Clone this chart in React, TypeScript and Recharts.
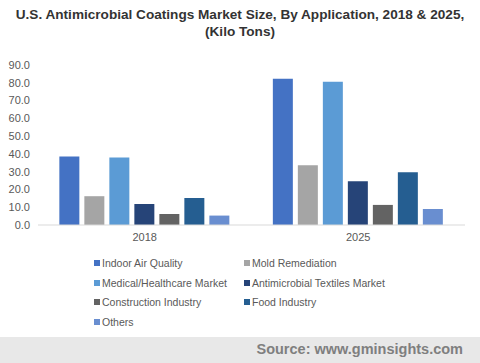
import { BarChart, Bar, XAxis, YAxis } from 'recharts'

const years = ['2018', '2025']

const indoorAir = [38.5, 82.2]
const moldRemediation = [16.2, 33.6]
const medical = [38.0, 80.6]
const textiles = [11.8, 24.6]
const construction = [6.2, 11.3]
const food = [15.2, 29.7]
const others = [5.3, 9.0]

const yTicks = [0, 10, 20, 30, 40, 50, 60, 70, 80, 90]

const series = [
  { key: 'indoor', name: 'Indoor Air Quality', color: '#4472C4', values: indoorAir },
  { key: 'mold', name: 'Mold Remediation', color: '#A5A5A5', values: moldRemediation },
  { key: 'medical', name: 'Medical/Healthcare Market', color: '#5B9BD5', values: medical },
  { key: 'textiles', name: 'Antimicrobial Textiles Market', color: '#264478', values: textiles },
  { key: 'construction', name: 'Construction Industry', color: '#636363', values: construction },
  { key: 'food', name: 'Food Industry', color: '#255E91', values: food },
  { key: 'others', name: 'Others', color: '#698ED0', values: others },
]

const data = years.map((year, i) => {
  const row: Record<string, string | number> = { year }
  series.forEach((s) => {
    row[s.key] = s.values[i]
  })
  return row
})

const font = '"Liberation Sans", Arial, sans-serif'

export default function App() {
  return (
    <div
      style={{
        position: 'absolute',
        left: 0,
        top: 0,
        width: 480,
        height: 363,
        background: '#fff',
        fontFamily: font,
        overflow: 'hidden',
      }}
    >
      <div
        style={{
          position: 'absolute',
          top: 6,
          left: 0,
          width: 480,
          textAlign: 'center',
          fontWeight: 'bold',
          fontSize: 13.6,
          lineHeight: '17px',
          color: '#333',
        }}
      >
        U.S. Antimicrobial Coatings Market Size, By Application, 2018 &amp; 2025,
        <br />
        (Kilo Tons)
      </div>

      <div style={{ position: 'absolute', top: 0, left: 0 }}>
        <BarChart
          width={480}
          height={250}
          data={data}
          margin={{ top: 65, right: 15, bottom: 0, left: 0 }}
          barCategoryGap="10%"
          barGap={5}
        >
          <XAxis
            dataKey="year"
            axisLine={{ stroke: '#d9d9d9' }}
            tickLine={false}
            height={25}
            tick={{ fontSize: 11, fill: '#595959', fontFamily: font }}
          />
          <YAxis
            domain={[0, 90]}
            ticks={yTicks}
            width={38}
            axisLine={false}
            tickLine={false}
            tickFormatter={(v: number) => v.toFixed(1)}
            tick={{ fontSize: 11, fill: '#595959', fontFamily: font }}
          />
          {series.map((s) => (
            <Bar key={s.key} dataKey={s.key} name={s.name} fill={s.color} isAnimationActive={false} />
          ))}
        </BarChart>
      </div>

      <div
        style={{
          position: 'absolute',
          top: 253,
          left: 94,
          width: 320,
          display: 'grid',
          gridTemplateColumns: '150px 170px',
          rowGap: 0,
          fontSize: 10.5,
          color: '#595959',
        }}
      >
        {series.map((s) => (
          <div key={s.key} style={{ display: 'flex', alignItems: 'center', height: 19.7 }}>
            <span
              style={{
                display: 'inline-block',
                width: 6,
                height: 6,
                background: s.color,
                marginRight: 2,
              }}
            />
            {s.name}
          </div>
        ))}
      </div>

      <div
        style={{
          position: 'absolute',
          top: 337,
          left: 0,
          width: 480,
          height: 26,
          background: '#e8e8e8',
        }}
      >
        <div
          style={{
            position: 'absolute',
            right: 17,
            top: 4,
            fontSize: 14.5,
            fontWeight: 'bold',
            color: '#7f7f7f',
          }}
        >
          Source: www.gminsights.com
        </div>
      </div>
    </div>
  )
}
